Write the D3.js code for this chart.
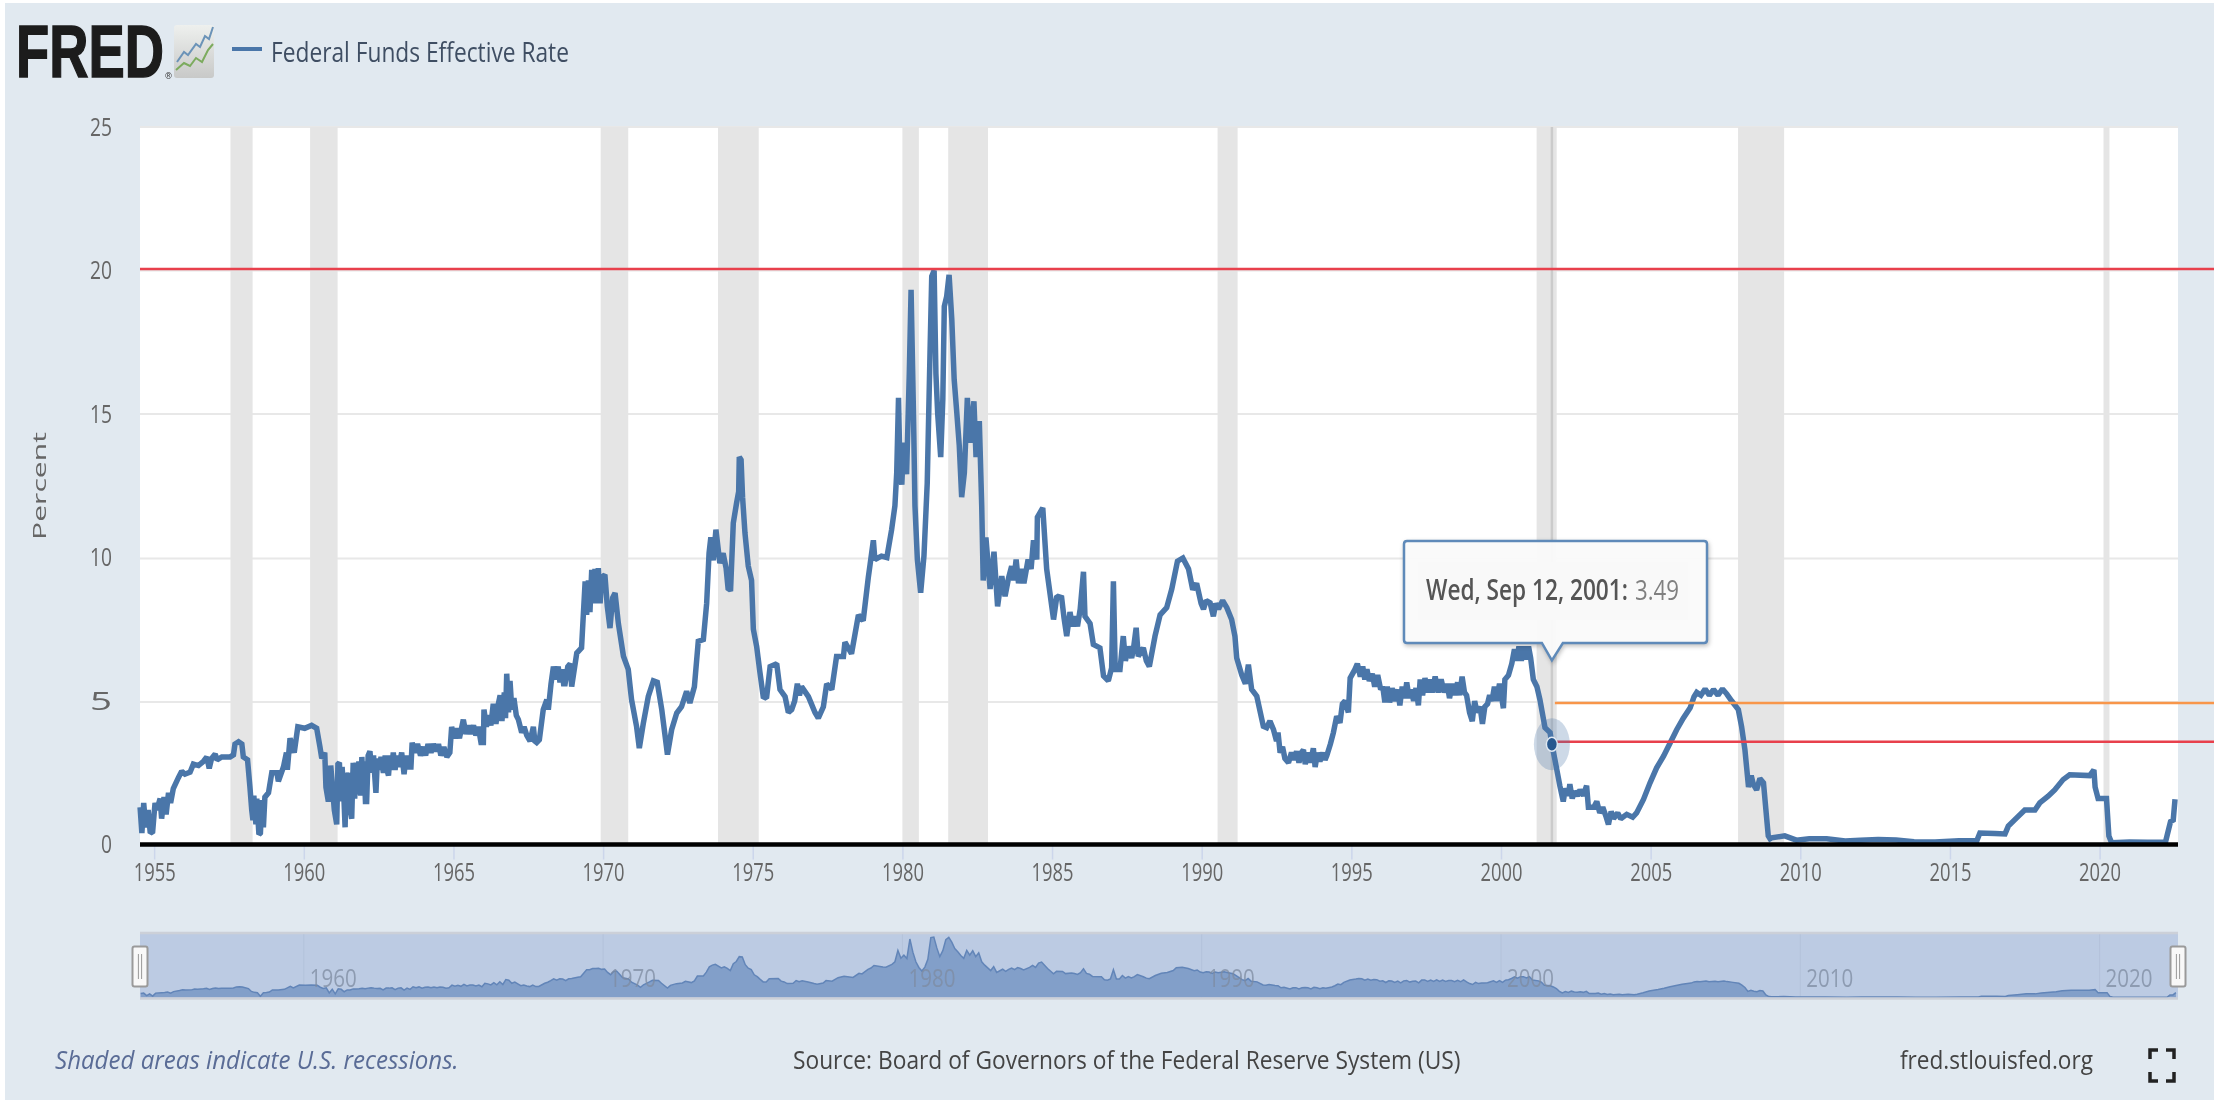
<!DOCTYPE html>
<html><head><meta charset="utf-8">
<script src="https://cdn.jsdelivr.net/npm/d3@7/dist/d3.min.js"></script>
<style>html,body{margin:0;padding:0;background:#fff}svg{display:block;filter:blur(0.6px)}text{font-family:"Open Sans",sans-serif}</style>
</head><body><svg id="c" width="2229" height="1100"></svg>
<script>
// [decimal year, percent]
const rate1950s=[[1954.53,1.3],[1954.59,.4],[1954.65,1.45],[1954.72,.6],[1954.8,1.2],[1954.87,.4],[1954.95,.45],[1955.03,1.45],[1955.09,1.2],[1955.2,1.6],[1955.25,.9],[1955.33,1.65],[1955.4,1.05],[1955.48,1.8],[1955.55,1.45],[1955.64,1.95],[1955.81,2.33],[1955.92,2.55],[1956.03,2.45],[1956.2,2.52],[1956.31,2.8],[1956.48,2.75],[1956.65,2.9],[1956.76,3.05],[1956.84,2.65],[1956.92,3],[1957.04,3.15],[1957.1,2.95],[1957.26,3.05],[1957.54,3.05],[1957.65,3.12],[1957.7,3.5],[1957.82,3.58],[1957.93,3.5],[1957.98,3.05],[1958.12,2.95],[1958.2,2],[1958.26,1.2],[1958.3,.85],[1958.33,1.7],[1958.4,.7],[1958.43,1.6],[1958.5,.35],[1958.55,.4],[1958.6,1.55],[1958.65,.6],[1958.7,1.65],[1958.82,1.8],[1958.93,2.5],[1959.1,2.5],[1959.15,2.2],[1959.32,2.7],[1959.42,3.2],[1959.45,2.6],[1959.54,3.7],[1959.68,3.2],[1959.8,4.1]];
const rate1960s=[[1960.03,4.05],[1960.26,4.15],[1960.43,4.05],[1960.54,3.4],[1960.6,3],[1960.7,3.2],[1960.74,2],[1960.82,1.5],[1960.9,2.75],[1961.02,1.2],[1961.1,.7],[1961.14,2.8],[1961.19,2.85],[1961.23,1.5],[1961.28,2.7],[1961.33,1.9],[1961.38,.6],[1961.42,2.5],[1961.46,1.6],[1961.5,2.5],[1961.55,1.2],[1961.6,.9],[1961.65,2.85],[1961.7,1.6],[1961.75,2.85],[1961.79,1.75],[1961.84,2.9],[1961.9,1.7],[1961.94,3.05],[1961.98,2],[1962.01,2.9],[1962.06,1.5],[1962.1,1.5],[1962.15,3.1],[1962.21,3.25],[1962.27,2.5],[1962.33,3.1],[1962.37,2.4],[1962.41,1.8],[1962.46,3],[1962.52,2.6],[1962.58,3.05],[1962.66,2.5],[1962.72,3.1],[1962.78,2.6],[1962.83,2.4],[1962.88,3.1],[1962.93,2.6],[1962.99,3.2],[1963.05,2.6],[1963.1,3.1],[1963.17,2.7],[1963.27,3.2],[1963.35,2.45],[1963.42,3.1],[1963.5,2.7],[1963.58,2.7],[1963.62,3.55],[1963.7,3.2],[1963.8,3.5],[1963.9,3.1],[1964,3.4],[1964.07,3.1],[1964.15,3.5],[1964.25,3.2],[1964.33,3.5],[1964.42,3.25],[1964.5,3.5],[1964.58,3.1],[1964.68,3.4],[1964.78,3.05],[1964.88,3.2],[1964.94,4.1],[1965.03,3.7],[1965.11,4.05],[1965.2,3.7],[1965.33,4.35],[1965.42,3.85],[1965.5,4.15],[1965.58,3.85],[1965.67,4.15],[1965.75,3.8],[1965.83,4.1],[1965.92,3.55],[1966,3.55],[1966.02,4.7],[1966.1,4.1],[1966.17,4.5],[1966.25,4.15],[1966.33,4.9],[1966.42,4.2],[1966.5,4.9],[1966.56,5.2],[1966.62,4.3],[1966.7,5.3],[1966.74,4.4],[1966.78,5.95],[1966.84,4.6],[1966.89,5.7],[1966.95,4.7],[1967.02,5.1],[1967.1,4.5],[1967.17,4.35],[1967.28,3.9],[1967.36,4.1],[1967.45,3.8],[1967.56,3.6],[1967.67,4.1],[1967.72,3.6],[1967.78,3.55],[1967.87,3.65],[1968,4.7],[1968.12,5.05],[1968.17,4.7],[1968.26,5.6],[1968.34,6.2],[1968.42,5.75],[1968.5,6.2],[1968.56,5.65],[1968.62,6.1],[1968.68,5.6],[1968.73,5.6],[1968.82,6.2],[1968.9,6.3],[1968.95,5.5],[1969.12,6.67],[1969.28,6.85],[1969.4,9.17],[1969.45,8],[1969.51,9.2],[1969.56,8.1],[1969.62,9.57],[1969.67,8.4],[1969.73,9.6],[1969.78,8.4],[1969.84,9.63],[1969.9,8.4],[1969.95,9.3]];
const rate1970s=[[1970.06,9.4],[1970.14,8.3],[1970.23,7.54],[1970.32,8.6],[1970.4,8.76],[1970.51,7.7],[1970.68,6.56],[1970.84,6.1],[1970.95,5.05],[1971.12,4.1],[1971.21,3.36],[1971.34,4.2],[1971.51,5.16],[1971.68,5.7],[1971.81,5.65],[1971.96,4.7],[1972.15,3.13],[1972.29,4],[1972.46,4.58],[1972.62,4.8],[1972.79,5.34],[1972.9,4.93],[1973.05,5.5],[1973.18,7.08],[1973.35,7.14],[1973.46,8.4],[1973.54,10.15],[1973.6,10.7],[1973.68,9.9],[1973.77,10.97],[1973.9,9.8],[1974.01,10.15],[1974.11,9.63],[1974.18,8.88],[1974.26,8.9],[1974.35,11.2],[1974.46,11.9],[1974.53,12.3],[1974.55,13.5],[1974.61,13.4],[1974.66,12.1],[1974.74,10.85],[1974.85,9.7],[1974.96,9.2],[1975.02,7.5],[1975.13,6.9],[1975.24,6],[1975.35,5.15],[1975.46,5.1],[1975.58,6.2],[1975.8,6.3],[1975.91,5.4],[1976.08,5.15],[1976.19,4.6],[1976.3,4.7],[1976.4,5.0],[1976.49,5.6],[1976.56,5.2],[1976.63,5.5],[1976.86,5.15],[1977.08,4.6],[1977.19,4.4],[1977.36,4.8],[1977.47,5.6],[1977.64,5.4],[1977.8,6.55],[1978.03,6.55],[1978.08,7.05],[1978.3,6.65],[1978.53,8],[1978.69,7.8],[1978.86,9.3],[1978.92,9.75],[1979.03,10.6],[1979.08,9.93],[1979.3,10.05],[1979.48,10],[1979.64,10.97],[1979.75,11.8],[1979.81,12.95],[1979.87,15.56],[1979.92,13],[1979.98,12.54]];
const rate1980s=[[1980.04,14],[1980.14,12.9],[1980.23,16.4],[1980.29,19.33],[1980.37,15],[1980.42,11.8],[1980.5,9.93],[1980.61,8.77],[1980.72,10.05],[1980.83,12.6],[1980.92,17],[1980.98,19.8],[1981.06,20],[1981.12,16.4],[1981.18,15],[1981.28,13.5],[1981.35,15.5],[1981.4,18.75],[1981.48,19.1],[1981.56,19.85],[1981.65,18.3],[1981.73,16.2],[1981.81,15.15],[1981.9,13.9],[1981.98,12.1],[1982.07,12.95],[1982.17,15.56],[1982.26,14],[1982.39,15.44],[1982.46,13.5],[1982.57,14.75],[1982.65,11.8],[1982.7,9.2],[1982.79,10.7],[1982.93,8.9],[1983.06,10.2],[1983.18,8.3],[1983.32,9.35],[1983.43,8.65],[1983.55,9.3],[1983.65,9.7],[1983.72,9.2],[1983.8,9.93],[1983.88,9.1],[1983.97,9.6],[1984.06,9.1],[1984.2,9.93],[1984.3,9.6],[1984.38,10.6],[1984.49,9.93],[1984.51,11.4],[1984.69,11.73],[1984.82,9.6],[1985.05,7.84],[1985.16,8.65],[1985.32,8.6],[1985.4,7.9],[1985.49,7.26],[1985.6,8.1],[1985.68,7.6],[1985.77,7.95],[1985.85,7.6],[1985.94,8.2],[1986.05,9.5],[1986.1,7.95],[1986.27,7.7],[1986.38,6.97],[1986.6,6.85],[1986.72,5.87],[1986.88,5.7],[1986.99,6.15],[1987.05,9.17],[1987.11,6.1],[1987.27,6.1],[1987.38,7.26],[1987.45,6.4],[1987.55,6.9],[1987.66,6.5],[1987.73,6.9],[1987.81,7.55],[1987.88,6.56],[1988.05,6.85],[1988.15,6.4],[1988.25,6.2],[1988.44,7.26],[1988.61,8],[1988.83,8.25],[1989,8.9],[1989.19,9.87],[1989.37,9.98],[1989.56,9.6],[1989.7,8.88],[1989.83,9.1]];
const rate1990s=[[1989.98,8.4],[1990.06,8.2],[1990.15,8.5],[1990.28,8.42],[1990.39,7.95],[1990.47,8.4],[1990.56,8.2],[1990.7,8.5],[1990.84,8.25],[1991,7.84],[1991.11,7.26],[1991.17,6.5],[1991.34,5.9],[1991.46,5.6],[1991.56,6.27],[1991.67,5.4],[1991.84,5.17],[1992.06,4.12],[1992.17,4.07],[1992.28,4.3],[1992.4,4],[1992.5,3.6],[1992.55,3.9],[1992.62,3.2],[1992.7,3.4],[1992.78,3],[1992.9,2.85],[1993,3.2],[1993.08,2.95],[1993.17,3.25],[1993.25,2.85],[1993.33,3.2],[1993.4,3.3],[1993.46,2.8],[1993.55,3.2],[1993.63,2.85],[1993.73,3.35],[1993.79,2.7],[1993.87,3.2],[1993.95,2.9],[1994.05,3.2],[1994.12,2.95],[1994.18,3.1],[1994.3,3.5],[1994.4,3.9],[1994.51,4.47],[1994.62,4.24],[1994.7,4.9],[1994.79,5],[1994.9,4.6],[1994.96,5.8],[1995.12,6.1],[1995.2,6.3],[1995.3,5.85],[1995.38,6.2],[1995.45,5.75],[1995.52,6.1],[1995.6,5.7],[1995.7,5.95],[1995.78,5.5],[1995.88,5.9],[1995.98,5.4],[1996.05,5.5],[1996.12,4.95],[1996.2,5.5],[1996.28,4.95],[1996.36,5.45],[1996.45,5],[1996.55,5.4],[1996.62,4.85],[1996.7,5.5],[1996.78,5.1],[1996.85,5.65],[1996.93,5.1],[1997,5.4],[1997.08,5],[1997.16,5.45],[1997.24,4.85],[1997.3,5.75],[1997.38,5.2],[1997.46,5.8],[1997.54,5.3],[1997.62,5.75],[1997.7,5.3],[1997.8,5.85],[1997.9,5.3],[1998,5.75],[1998.1,5.3],[1998.2,5.6],[1998.28,5.1],[1998.38,5.6],[1998.46,5.2],[1998.55,5.65],[1998.62,5.2],[1998.7,5.85],[1998.78,5.3],[1998.85,5.2],[1998.95,4.6],[1999.04,4.3],[1999.12,5],[1999.2,4.6],[1999.3,4.8],[1999.38,4.2],[1999.46,4.8],[1999.55,4.9],[1999.62,5.2],[1999.7,5],[1999.78,5.5],[1999.85,5],[1999.95,5.6]];
const rate2000s=[[2000.04,5],[2000.08,4.75],[2000.13,5.75],[2000.25,5.9],[2000.36,6.3],[2000.45,6.8],[2000.52,6.4],[2000.6,6.9],[2000.68,6.4],[2000.76,6.9],[2000.84,6.45],[2000.92,6.9],[2000.99,6.5],[2001.08,5.75],[2001.2,5.5],[2001.3,5.05],[2001.47,4.07],[2001.64,3.9],[2001.7,3.49],[2001.8,2.96],[2001.97,2.03],[2002.08,1.5],[2002.15,1.95],[2002.25,1.7],[2002.3,2.1],[2002.38,1.6],[2002.45,1.85],[2002.55,1.7],[2002.64,1.9],[2002.75,1.7],[2002.86,2.05],[2002.92,1.3],[2003.1,1.3],[2003.2,1.5],[2003.3,1.1],[2003.4,1.3],[2003.5,1],[2003.59,.7],[2003.68,1.15],[2003.76,.9],[2003.9,1.1],[2004,.9],[2004.2,1.05],[2004.4,.95],[2004.53,1.1],[2004.76,1.57],[2004.98,2.15],[2005.2,2.67],[2005.43,3.08],[2005.65,3.54],[2005.87,4],[2006.09,4.4],[2006.32,4.76],[2006.45,5.15],[2006.54,5.3],[2006.68,5.2],[2006.82,5.42],[2006.96,5.2],[2007.1,5.4],[2007.25,5.2],[2007.4,5.42],[2007.54,5.25],[2007.71,5],[2007.93,4.7],[2008.04,4.1],[2008.15,3.3],[2008.27,2],[2008.36,2.4],[2008.43,2.1],[2008.54,1.9],[2008.65,2.3],[2008.77,2.15],[2008.88,.87],[2008.93,.3],[2008.99,.2],[2009.04,.23],[2009.48,.3],[2009.87,.15]];
const rate2010s=[[2010.3,.2],[2010.88,.2],[2011.5,.12],[2012,.15],[2012.6,.17],[2013.2,.16],[2013.8,.1],[2014.5,.09],[2015.3,.13],[2015.9,.14],[2016,.4],[2016.5,.38],[2016.84,.37],[2016.95,.64],[2017.22,.92],[2017.5,1.2],[2017.84,1.2],[2018,1.45],[2018.28,1.68],[2018.5,1.9],[2018.78,2.26],[2019,2.43],[2019.67,2.4],[2019.81,2.6],[2019.85,2],[2019.95,1.6]];
const rate2020s=[[2020.23,1.6],[2020.31,.3],[2020.4,.06],[2021,.09],[2021.6,.08],[2022.2,.08],[2022.37,.8],[2022.46,.85],[2022.52,1.58]];
const rateReadings=[...rate1950s,...rate1960s,...rate1970s,...rate1980s,...rate1990s,...rate2000s,...rate2010s,...rate2020s];
const recessionStarts=[1957.55,1960.21,1969.92,1973.84,1980.0,1981.53,1990.53,2001.19,2007.92,2020.13];
const recessionEnds=[1958.29,1961.13,1970.84,1975.2,1980.55,1982.86,1991.2,2001.86,2009.46,2020.33];
const yTicks=[0,5,10,15,20,25];
const xTicks=[1955,1960,1965,1970,1975,1980,1985,1990,1995,2000,2005,2010,2015,2020];
const navTicks=[1960,1970,1980,1990,2000,2010,2020];
const selectedYear=2001.7, selectedRate=3.49;
const tooltipDate="Wed, Sep 12, 2001:", tooltipValue="3.49";
const fullLevels=[20.05], partLevels=[4.93,3.58], partColors=["#f8964a","#e8404c"];
const seriesName="Federal Funds Effective Rate";

const svg=d3.select("#c");
const x=d3.scaleLinear().domain([2000,2010]).range([1501,1800.3]);
const y=d3.scaleLinear().domain([0,25]).range([844.5,127]);
const yNav=d3.scaleLinear().domain([0,20]).range([997.5,937]);
const L=140,R=2178,END=2214;
const line=d3.line().x(d=>x(d[0])).y(d=>y(d[1]));

svg.append("rect").attr("x",5).attr("y",3).attr("width",2209).attr("height",1097).attr("fill","#e1e9f0");
svg.append("rect").attr("x",L).attr("y",y(25)).attr("width",R-L).attr("height",y(0)-y(25)).attr("fill","#fff");

svg.selectAll(".g").data(yTicks.slice(1)).join("line").attr("x1",L).attr("x2",R)
  .attr("y1",d=>y(d)+(d===5||d===10?1:0)).attr("y2",d=>y(d)+(d===5||d===10?1:0)).attr("stroke","#e8e8e8").attr("stroke-width",2);
svg.selectAll(".r").data(d3.zip(recessionStarts,recessionEnds)).join("rect")
  .attr("x",d=>x(d[0])).attr("width",d=>x(d[1])-x(d[0])).attr("y",y(25)).attr("height",y(0)-y(25)).attr("fill","#e5e5e5");
svg.append("line").attr("x1",x(selectedYear)).attr("x2",x(selectedYear)).attr("y1",y(25)).attr("y2",y(0)).attr("stroke","#cbcbcb").attr("stroke-width",2.5);

const gx=svg.append("g").attr("transform",`translate(0,${y(0)})`)
  .call(d3.axisBottom(x).tickValues(xTicks).tickFormat(d3.format("d")).tickSize(15).tickPadding(4));
gx.select(".domain").remove();
gx.selectAll("line").attr("stroke","#ccd6eb").attr("stroke-width",1.5);
gx.selectAll("text").attr("font-size",25).attr("fill","#666").attr("textLength",42).attr("lengthAdjust","spacingAndGlyphs");
const gy=svg.append("g").attr("transform",`translate(${L},0)`)
  .call(d3.axisLeft(y).tickValues(yTicks).tickSize(0).tickPadding(28));
gy.select(".domain").remove();
gy.selectAll("text").attr("font-size",25).attr("fill","#666").attr("textLength",d=>d===0?11:22).attr("lengthAdjust","spacingAndGlyphs");

svg.append("path").datum(rateReadings).attr("d",line).attr("fill","none").attr("stroke","#4a76a9").attr("stroke-width",5.5).attr("stroke-linejoin","miter").attr("stroke-miterlimit",1.5);
svg.append("line").attr("x1",L).attr("x2",R).attr("y1",y(0)).attr("y2",y(0)).attr("stroke","#000").attr("stroke-width",4.5);
svg.selectAll(".f").data(fullLevels).join("line").attr("x1",L).attr("x2",END).attr("y1",d=>y(d)).attr("y2",d=>y(d)).attr("stroke","#e8404c").attr("stroke-width",2.5);
svg.selectAll(".p").data(partLevels).join("line").attr("x1",x(selectedYear)+3).attr("x2",END).attr("y1",d=>y(d)).attr("y2",d=>y(d)).attr("stroke",(d,i)=>partColors[i]).attr("stroke-width",2.5);
const mx=x(selectedYear),my=y(selectedRate);
svg.append("ellipse").attr("cx",mx).attr("cy",my).attr("rx",18).attr("ry",26).attr("fill","#4a76a9").attr("opacity",.28);
svg.append("ellipse").attr("cx",mx).attr("cy",my).attr("rx",5.5).attr("ry",7).attr("fill","#27588f").attr("stroke","#dfe8f2").attr("stroke-width",1.5);

const tipY=my-84, tL=1404,tR=1707,tT=541,tB=643, r=3;
const tip=`M${tL+r},${tT}H${tR-r}Q${tR},${tT} ${tR},${tT+r}V${tB-r}Q${tR},${tB} ${tR-r},${tB}H${mx+11}L${mx},${tipY}L${mx-10},${tB}H${tL+r}Q${tL},${tB} ${tL},${tB-r}V${tT+r}Q${tL},${tT} ${tL+r},${tT}Z`;
svg.append("path").attr("d",tip).attr("fill","#fdfdfd").attr("fill-opacity",.94).attr("stroke","#5f8ab9").attr("stroke-width",2.5).style("filter","drop-shadow(1px 2px 2px rgba(0,0,0,.25))");
svg.append("rect").attr("x",1418).attr("y",562).attr("width",270).attr("height",58).attr("fill","#f9f9f9");
// text condensed to a measured width with a horizontal scale, so its box stays true
function txt(s,xp,yp,size,color,len,extra={}){
  const t=svg.append("text").attr("font-size",size).attr("fill",color).text(s);
  for(const k in extra)t.attr(k,extra[k]);
  const w=t.node().getComputedTextLength();
  t.attr("transform",`translate(${xp},${yp}) scale(${len/w},1)`);
  return t;
}
txt(tooltipDate,1426,600,28,"#555",202,{"font-weight":600});
txt(tooltipValue,1635,600,28,"#808080",44);

txt("FRED",16,77,74,"#1c1c1c",148,{style:"font-family:'Liberation Sans',sans-serif;font-weight:700;stroke:#1c1c1c;stroke-width:1.5"});
txt("®",165,79,9,"#333",7);
const ic=svg.append("g");
const grad=svg.append("defs").append("linearGradient").attr("id","ig").attr("x1",0).attr("x2",0).attr("y1",0).attr("y2",1);
grad.append("stop").attr("offset",0).attr("stop-color","#eef0ee");grad.append("stop").attr("offset",1).attr("stop-color","#c8c9c8");
ic.append("rect").attr("x",174).attr("y",25).attr("width",40).attr("height",53).attr("rx",3).attr("fill","url(#ig)");
ic.append("path").attr("d","M177,62L184,52L188,55L196,44L200,47L205,36L209,39L213,27").attr("fill","none").attr("stroke","#6b93b8").attr("stroke-width",2);
ic.append("path").attr("d","M176,70L184,63L190,66L196,58L202,62L208,50L213,44").attr("fill","none").attr("stroke","#7cab5e").attr("stroke-width",2);
svg.append("line").attr("x1",232).attr("x2",262).attr("y1",49).attr("y2",49).attr("stroke","#4a76a9").attr("stroke-width",4);
txt(seriesName,271,62,28,"#3f4e63",298);

svg.append("text").attr("transform","translate(46,486) rotate(-90)").attr("text-anchor","middle").attr("font-size",18).attr("fill","#666").attr("textLength",108).attr("lengthAdjust","spacingAndGlyphs").text("Percent");

svg.append("rect").attr("x",L).attr("y",934).attr("width",R-L).attr("height",64).attr("fill","#bccbe3");
svg.selectAll(".nt").data(navTicks).join("line").attr("x1",d=>x(d)).attr("x2",d=>x(d)).attr("y1",934).attr("y2",998).attr("stroke","#b3c2da").attr("stroke-width",1);
// navigator line is the same readings, keeping the highest in each tenth of a year
const navSeries=d3.rollups(rateReadings,v=>d3.max(v,d=>d[1]),d=>Math.floor(d[0]*10)/10).map(([k,v])=>[k+.05,v]).sort((a,b)=>a[0]-b[0]);
const navArea=d3.area().x(d=>x(d[0])).y0(yNav(0)).y1(d=>yNav(d[1]));
svg.append("path").datum(navSeries).attr("d",navArea).attr("fill","#829fc9");
svg.append("path").datum(navSeries).attr("d",d3.line().x(d=>x(d[0])).y(d=>yNav(d[1]))).attr("fill","none").attr("stroke","#6285b8").attr("stroke-width",1.5);
svg.append("line").attr("x1",L).attr("x2",R).attr("y1",933).attr("y2",933).attr("stroke","#ccd0d8").attr("stroke-width",2.5);
svg.append("line").attr("x1",L).attr("x2",R).attr("y1",998.5).attr("y2",998.5).attr("stroke","#ccd0d8").attr("stroke-width",2.5);
svg.selectAll(".nl").data(navTicks).join("text").attr("x",d=>x(d)+6).attr("y",987).attr("font-size",26).attr("fill","#7e8ba0").attr("fill-opacity",.75).attr("textLength",47).attr("lengthAdjust","spacingAndGlyphs").text(d=>d);
[L,R].forEach(hx=>{
  svg.append("rect").attr("x",hx-7.5).attr("y",946.5).attr("width",15).attr("height",40).attr("rx",2).attr("fill","#f8f8f8").attr("stroke","#9a9a9a").attr("stroke-width",2);
  [-1.6,1.6].forEach(o=>svg.append("line").attr("x1",hx+o).attr("x2",hx+o).attr("y1",954).attr("y2",979).attr("stroke","#999").attr("stroke-width",1));
});

txt("Shaded areas indicate U.S. recessions.",55,1069,26,"#5a6c96",404,{"font-style":"italic"});
txt("Source: Board of Governors of the Federal Reserve System (US)",793,1069,26,"#444",668);
txt("fred.stlouisfed.org",1900,1069,26,"#444",193);
[[2150,1050,1,1],[2174,1050,-1,1],[2150,1081,1,-1],[2174,1081,-1,-1]].forEach(([a,b,sx,sy])=>{
  svg.append("path").attr("d",`M${a},${b+sy*9}V${b}H${a+sx*8}`).attr("fill","none").attr("stroke","#222").attr("stroke-width",3.5);
});
</script></body></html>
